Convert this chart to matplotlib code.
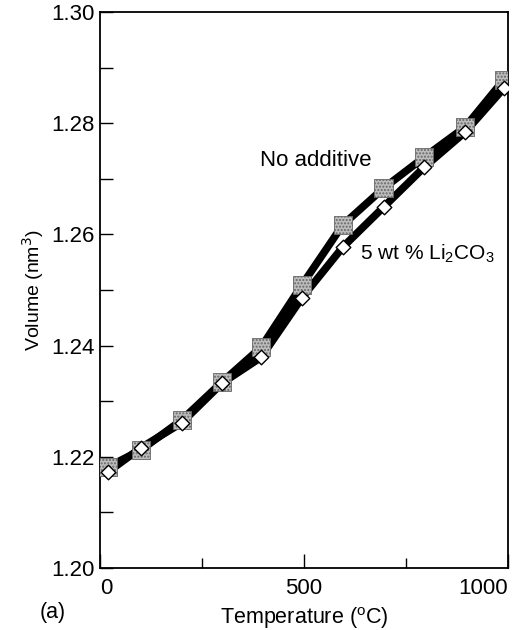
import matplotlib
matplotlib.use('Agg')
import matplotlib.pyplot as plt
from matplotlib.ticker import MultipleLocator

plt.rcParams['font.family'] = ['Liberation Sans', 'DejaVu Sans']
plt.rcParams['hatch.color'] = '#444444'
plt.rcParams['hatch.linewidth'] = 1.0

# temperatures (C) and lattice volumes (nm^3)
temps = [20, 100, 200, 300, 395, 495, 595, 695, 795, 895, 990]
noAdditive = [1.2182, 1.2212, 1.2266, 1.2335, 1.2397, 1.2509, 1.2617, 1.2683, 1.2739, 1.2793, 1.2878]
withLi2CO3 = [1.2173, 1.2216, 1.2261, 1.2333, 1.2379, 1.2486, 1.2577, 1.2649, 1.2721, 1.2784, 1.2863]

fig = plt.figure(figsize=(5.25, 6.3), dpi=100)
ax = fig.add_axes([0.1905, 0.0984, 0.777, 0.8826])

#thick black connecting lines
ax.plot(temps, noAdditive, color='black', lw=5.5, solid_joinstyle='round', zorder=2)
ax.plot(temps, withLi2CO3, color='black', lw=5.5, solid_joinstyle='round', zorder=2)

#dotted grey squares and small white diamonds
ax.scatter(temps, noAdditive, marker='s', s=170, facecolor='#bdbdbd', edgecolor='#666666',
           hatch='.....', linewidths=0.6, zorder=3)
ax.scatter(temps, withLi2CO3, marker='D', s=55, facecolor='white', edgecolor='black',
           linewidths=1.0, zorder=4)

ax.set_xlim(0, 1000)
ax.set_ylim(1.20, 1.30)
ax.set_xticks([0, 500, 1000])
ax.xaxis.set_minor_locator(MultipleLocator(250))
ax.yaxis.set_major_locator(MultipleLocator(0.02))
ax.yaxis.set_minor_locator(MultipleLocator(0.01))
ax.yaxis.set_major_formatter(matplotlib.ticker.FormatStrFormatter('%.2f'))
ax.tick_params(axis='both', which='both', direction='in', labelsize=16, top=False, right=False)
ax.tick_params(axis='y', which='major', length=9, width=1, pad=4)
ax.tick_params(axis='y', which='minor', length=9, width=1)
ax.tick_params(axis='x', which='major', length=10, width=1, pad=7)
ax.tick_params(axis='x', which='minor', length=7, width=1)
for sp in ax.spines.values():
    sp.set_linewidth(1.3)

fig.canvas.draw()
xlabels = ax.get_xticklabels()
xlabels[-1].set_horizontalalignment('right')
xlabels[0].set_horizontalalignment('left')

ax.set_ylabel('Volume (nm$^3$)', fontsize=14, labelpad=4)
ax.set_xlabel('Temperature ($^\\mathregular{o}$C)', fontsize=15.5, labelpad=5)
fig.text(0.1, 0.027, '(a)', fontsize=15.5, ha='center', va='center')

ax.text(530, 1.2733, 'No additive', fontsize=16, ha='center', va='center')
ax.text(637, 1.2565, '5 wt % Li$_\\mathregular{2}$CO$_\\mathregular{3}$', fontsize=15, ha='left', va='center')

fig.savefig('out.png', dpi=100)
